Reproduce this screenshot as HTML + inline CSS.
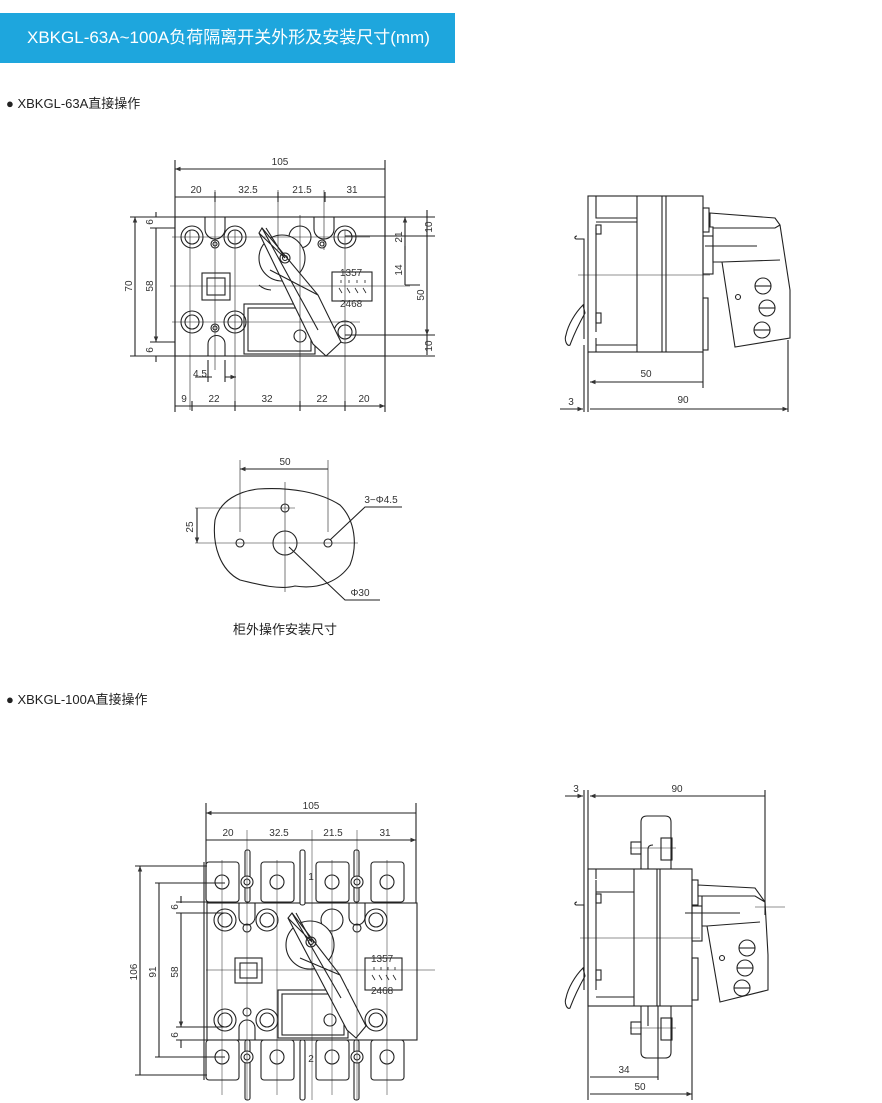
<!DOCTYPE html>
<html><head><meta charset="utf-8"><style>
body{margin:0;background:#fff;width:882px;height:1103px;overflow:hidden;font-family:"Liberation Sans","Noto Sans CJK SC",sans-serif}
.hdr{position:absolute;left:0;top:13px;width:455px;height:50px;background:#1ea6dd;color:#fff;font-size:17px;line-height:50px;padding-left:27px;box-sizing:border-box;white-space:nowrap;overflow:hidden}
.b{position:absolute;left:6px;font-size:13px;color:#222}
svg{position:absolute;left:0;top:0}
</style></head><body>
<div class="hdr">XBKGL-63A~100A负荷隔离开关外形及安装尺寸(mm)</div>
<div class="b" style="top:93px">● XBKGL-63A直接操作</div>
<div class="b" style="top:689px">● XBKGL-100A直接操作</div>
<svg width="882" height="1103" viewBox="0 0 882 1103" font-family="Liberation Sans, sans-serif" font-size="10" fill="none" stroke="#222" stroke-width="1.1">
<defs><marker id="a" markerWidth="6" markerHeight="6" refX="5" refY="3" orient="auto-start-reverse"><path d="M0,1 L5,3 L0,5z" fill="#333" stroke="none"/></marker></defs>
<!-- ===== 63A FRONT ===== -->
<g>
<rect x="175" y="217" width="210" height="139"/>
<path d="M205 217v12a5 5 0 0 0 20 0v-12M314 217v12a5 5 0 0 0 20 0v-12M208 356v-12a5 5 0 0 1 17 0v12"/>
<g><circle cx="192" cy="237" r="11"/><circle cx="192" cy="237" r="7"/><circle cx="235" cy="237" r="11"/><circle cx="235" cy="237" r="7"/><circle cx="300" cy="237" r="11"/><circle cx="345" cy="237" r="11"/><circle cx="345" cy="237" r="7"/>
<circle cx="192" cy="322" r="11"/><circle cx="192" cy="322" r="7"/><circle cx="235" cy="322" r="11"/><circle cx="235" cy="322" r="7"/><circle cx="345" cy="332" r="11"/><circle cx="345" cy="332" r="7"/><circle cx="300" cy="336" r="6"/>
<circle cx="215" cy="244" r="4"/><circle cx="215" cy="244" r="2"/><circle cx="322" cy="244" r="4"/><circle cx="322" cy="244" r="2"/><circle cx="215" cy="328" r="4"/><circle cx="215" cy="328" r="2"/></g>
<rect x="202" y="273" width="28" height="27"/><rect x="207" y="278" width="18" height="17"/>
<rect x="244" y="304" width="71" height="50"/><rect x="248" y="308" width="63" height="43"/>
<circle cx="282" cy="258" r="23" fill="#fff"/>
<path d="M259 285c3 3 8 5 12 5" />
<path d="M262 228L318 295L341 342L326 356L313 344L259 233Z" fill="#fff"/>
<path d="M262 228L318 330M266 228L285 258M259 233L285 258M270 270L318 295"/>
<circle cx="285" cy="258" r="5"/><circle cx="285" cy="258" r="2.5"/>
<rect x="332" y="272" width="40" height="29"/>
<text x="340" y="276" fill="#333" stroke="none" font-size="10">1357</text>
<text x="340" y="307" fill="#333" stroke="none" font-size="10">2468</text>
<path d="M341 280v3M349 280v3M357 280v3M365 280v3M339 288l3 5M347 288l3 5M355 288l3 5M363 288l3 5" stroke-width="0.8"/>
<path d="M170 286H410M300 215V410M190 230V410M235 230V410M345 230V410M215 190V370M278 190V250M324 190V250M172 237H370M172 322H360" stroke-width="0.6"/>
<path d="M175 160V412M385 160V412"/>
<path d="M175 169H385M175 197H385M175 406H385" marker-start="url(#a)" marker-end="url(#a)"/>
<path d="M215 192v10M278 192v10M325 192v10M192 401v10M235 401v10M300 401v10M345 401v10"/>
<path d="M130 217H175M130 356H175M150 228H175M150 342H175"/>
<path d="M135 217V356M156 228V342" marker-start="url(#a)" marker-end="url(#a)"/>
<path d="M156 212v5M156 356v6"/>
<path d="M385 217H435M385 356H435M345 236H435M345 335H435M405 285H420"/>
<path d="M405 217V285M427 236V335" marker-start="url(#a)" marker-end="url(#a)"/>
<path d="M427 210v26M427 335v20M405 250v-4"/>
<path d="M195 377H212M225 377H236" marker-end="url(#a)"/><path d="M208 360V382M225 360V382"/>
<g fill="#333" stroke="none" text-anchor="middle">
<text x="280" y="165">105</text><text x="196" y="193">20</text><text x="248" y="193">32.5</text><text x="302" y="193">21.5</text><text x="352" y="193">31</text>
<text x="184" y="402">9</text><text x="214" y="402">22</text><text x="267" y="402">32</text><text x="322" y="402">22</text><text x="364" y="402">20</text>
<text x="200" y="377">4.5</text>
<text transform="translate(132,286) rotate(-90)">70</text><text transform="translate(153,286) rotate(-90)">58</text>
<text transform="translate(153,222) rotate(-90)">6</text><text transform="translate(153,350) rotate(-90)">6</text>
<text transform="translate(402,237) rotate(-90)">21</text><text transform="translate(402,270) rotate(-90)">14</text>
<text transform="translate(424,295) rotate(-90)">50</text>
<text transform="translate(432,227) rotate(-90)">10</text><text transform="translate(432,346) rotate(-90)">10</text>
</g>
</g>
<!-- ===== 63A SIDE ===== -->
<g>
<rect x="588" y="196" width="115" height="156"/>
<path d="M637 196V352M662 196V352M666 196V352M596 196V218H637M596 222H637M596 345H637M596 338v14M596 228V332"/>
<rect x="596" y="225" width="5" height="9"/><rect x="596" y="313" width="5" height="10"/>
<path d="M577 236c-2 0-3 2-1 3h8v100"/>
<path d="M583 305c-8 8-15 20-17 30c-2 5 1 12 4 10c2-5 4-12 15-32z"/>
<rect x="703" y="208" width="6" height="24"/><rect x="703" y="236" width="10" height="38"/><rect x="703" y="298" width="5" height="52"/>
<path d="M710 213L775 218L780 225L790 290L790 338L735 347L722 262H713V227H710Z" fill="#fff"/>
<path d="M713 228H775L780 225M722 262L780 260M705 246H757"/>
<circle cx="763" cy="286" r="8"/><path d="M755 286h16"/><circle cx="767" cy="308" r="8"/><path d="M759 308h16"/><circle cx="762" cy="330" r="8"/><path d="M754 330h16"/><circle cx="738" cy="297" r="2.5"/>
<path d="M578 275H710" stroke-width="0.6"/>
<path d="M588 352V412M703 352V388M788 340V412M584 345V412"/>
<path d="M590 382H703M590 409H788" marker-start="url(#a)" marker-end="url(#a)"/>
<path d="M560 409H583" marker-end="url(#a)"/>
<g fill="#333" stroke="none" text-anchor="middle"><text x="646" y="377">50</text><text x="683" y="403">90</text><text x="571" y="405">3</text></g>
</g>
<!-- ===== CUTOUT ===== -->
<g>
<path d="M258 489C290 487 320 492 340 505C355 520 358 545 350 565C340 580 320 590 295 586C280 590 260 585 240 580C220 570 212 545 215 520C220 500 240 491 258 489Z"/>
<circle cx="285" cy="508" r="4"/><circle cx="240" cy="543" r="4"/><circle cx="328" cy="543" r="4"/><circle cx="285" cy="543" r="12"/>
<path d="M195 543H358M285 482V592M195 508H295M240 460V532M328 460V532" stroke-width="0.6"/>
<path d="M240 469H328M197 508V543" marker-start="url(#a)" marker-end="url(#a)"/>
<path d="M330 540L365 507H402M289 547L345 600H380"/>
<g fill="#333" stroke="none" text-anchor="middle"><text x="381" y="503">3−Φ4.5</text><text x="285" y="465">50</text><text transform="translate(193,527) rotate(-90)">25</text><text x="360" y="596">Φ30</text></g>
<text x="285" y="634" fill="#222" stroke="none" font-size="13" text-anchor="middle" font-family="Liberation Sans, Noto Sans CJK SC, sans-serif">柜外操作安装尺寸</text>
</g>
<!-- ===== 100A FRONT ===== -->
<g>
<rect x="206" y="862" width="33" height="40" rx="3"/><rect x="261" y="862" width="33" height="40" rx="3"/><rect x="316" y="862" width="33" height="40" rx="3"/><rect x="371" y="862" width="33" height="40" rx="3"/>
<rect x="206" y="1040" width="33" height="40" rx="3"/><rect x="261" y="1040" width="33" height="40" rx="3"/><rect x="316" y="1040" width="33" height="40" rx="3"/><rect x="371" y="1040" width="33" height="40" rx="3"/>
<path d="M204 862V1080"/>
<rect x="207" y="903" width="210" height="137" fill="#fff"/>
<g><circle cx="222" cy="882" r="7"/><circle cx="277" cy="882" r="7"/><circle cx="332" cy="882" r="7"/><circle cx="387" cy="882" r="7"/>
<circle cx="222" cy="1057" r="7"/><circle cx="277" cy="1057" r="7"/><circle cx="332" cy="1057" r="7"/><circle cx="387" cy="1057" r="7"/>
<circle cx="225" cy="920" r="11"/><circle cx="225" cy="920" r="7"/><circle cx="267" cy="920" r="11"/><circle cx="267" cy="920" r="7"/><circle cx="332" cy="920" r="11"/><circle cx="376" cy="920" r="11"/><circle cx="376" cy="920" r="7"/>
<circle cx="225" cy="1020" r="11"/><circle cx="225" cy="1020" r="7"/><circle cx="267" cy="1020" r="11"/><circle cx="267" cy="1020" r="7"/><circle cx="376" cy="1020" r="11"/><circle cx="376" cy="1020" r="7"/><circle cx="330" cy="1020" r="6"/>
<circle cx="247" cy="928" r="4"/><circle cx="357" cy="928" r="4"/><circle cx="247" cy="1012" r="4"/></g>
<path d="M239 903v14a8 8 0 0 0 16 0v-14M349 903v14a8 8 0 0 0 16 0v-14M239 1040v-12a8 8 0 0 1 16 0v12"/>
<rect x="245" y="850" width="5" height="52" rx="2" fill="#fff"/><rect x="300" y="850" width="5" height="55" rx="2" fill="#fff"/><rect x="354" y="850" width="5" height="52" rx="2" fill="#fff"/>
<rect x="245" y="1040" width="5" height="60" rx="2" fill="#fff"/><rect x="300" y="1040" width="5" height="60" rx="2" fill="#fff"/><rect x="354" y="1040" width="5" height="60" rx="2" fill="#fff"/>
<circle cx="247" cy="882" r="6" fill="#fff"/><circle cx="247" cy="882" r="3"/><circle cx="357" cy="882" r="6" fill="#fff"/><circle cx="357" cy="882" r="3"/><circle cx="247" cy="1057" r="6" fill="#fff"/><circle cx="247" cy="1057" r="3"/><circle cx="357" cy="1057" r="6" fill="#fff"/><circle cx="357" cy="1057" r="3"/>
<rect x="235" y="958" width="27" height="25"/><rect x="240" y="963" width="17" height="15"/>
<rect x="278" y="990" width="70" height="48"/><rect x="282" y="994" width="62" height="41"/>
<circle cx="310" cy="945" r="24" fill="#fff"/>
<path d="M292 913L340 975L366 1026L356 1038L347 1030L288 918Z" fill="#fff"/>
<path d="M292 913L341 998M296 913L312 942M288 918L312 942M300 958L340 975"/>
<circle cx="311" cy="942" r="5"/><circle cx="311" cy="942" r="2.5"/>
<rect x="365" y="958" width="37" height="32"/>
<text x="371" y="962" fill="#333" stroke="none">1357</text><text x="371" y="994" fill="#333" stroke="none">2468</text>
<path d="M374 967v3M381 967v3M388 967v3M395 967v3M372 975l3 5M379 975l3 5M386 975l3 5M393 975l3 5" stroke-width="0.8"/>
<path d="M206 970H435M222 860V1095M277 860V1095M332 860V1095M387 860V1095M247 830V1100M357 830V1100M312 830V1100" stroke-width="0.5"/>
<path d="M206 803V900M416 803V903"/>
<path d="M206 813H416M206 840H416" marker-start="url(#a)" marker-end="url(#a)"/>
<path d="M135 866H207M155 883H225M176 902H225M176 913H225M176 1027H225M176 1040H225M155 1057H225M135 1075H207"/>
<path d="M140 866V1075M159 883V1057M181 913V1027" marker-start="url(#a)" marker-end="url(#a)"/>
<path d="M181 896v7M181 1040v8"/>
<g fill="#333" stroke="none" text-anchor="middle">
<text x="311" y="809">105</text><text x="228" y="836">20</text><text x="279" y="836">32.5</text><text x="333" y="836">21.5</text><text x="385" y="836">31</text>
<text x="311" y="880">1</text><text x="311" y="1062">2</text>
<text transform="translate(137,972) rotate(-90)">106</text><text transform="translate(156,972) rotate(-90)">91</text><text transform="translate(178,972) rotate(-90)">58</text>
<text transform="translate(178,907) rotate(-90)">6</text><text transform="translate(178,1035) rotate(-90)">6</text>
</g>
</g>
<!-- ===== 100A SIDE ===== -->
<g>
<rect x="588" y="869" width="104" height="137"/>
<path d="M634 869V1006M657 869V1006M660 869V1006M596 869v10M596 892H634M596 997H634M596 880V990"/>
<rect x="596" y="894" width="5" height="9"/><rect x="596" y="970" width="5" height="10"/>
<path d="M641 869V822c0-4 2-6 6-6h18c4 0 6 2 6 6v47M641 1006v46c0 4 2 6 6 6h18c4 0 6-2 6-6v-46"/>
<path d="M648 869v-20c0-3 2-4 5-4M648 1006v20"/>
<rect x="631" y="842" width="10" height="12"/><rect x="661" y="838" width="11" height="22"/><rect x="631" y="1022" width="10" height="12"/><rect x="661" y="1018" width="11" height="22"/>
<path d="M577 902c-2 0-3 2-1 3h8v76"/>
<path d="M583 968c-8 8-15 20-17 30c-2 5 1 12 4 10c2-5 4-12 15-32z"/>
<rect x="692" y="880" width="6" height="25"/><rect x="692" y="906" width="10" height="35"/><rect x="692" y="958" width="6" height="42"/>
<path d="M698 885L755 888L765 902L768 955L768 990L720 1002L707 926H702V896H698Z" fill="#fff"/>
<path d="M702 896H755L765 902M707 926L760 922M685 913H740"/>
<circle cx="747" cy="948" r="8"/><path d="M739 948h16"/><circle cx="745" cy="968" r="8"/><path d="M737 968h16"/><circle cx="742" cy="988" r="8"/><path d="M734 988h16"/><circle cx="722" cy="958" r="2.5"/>
<path d="M580 938H700M755 907H785M630 848H676M630 1028H676" stroke-width="0.6"/>
<path d="M588 790V1100M692 1006V1100M658 1006V1080M765 790V915M584 790V990"/>
<path d="M590 796H765M590 1077H658M590 1094H692" marker-start="url(#a)" marker-end="url(#a)"/>
<path d="M565 796H583" marker-end="url(#a)"/>
<g fill="#333" stroke="none" text-anchor="middle"><text x="677" y="792">90</text><text x="576" y="792">3</text><text x="624" y="1073">34</text><text x="640" y="1090">50</text></g>
</g>
</svg>
</body></html>
